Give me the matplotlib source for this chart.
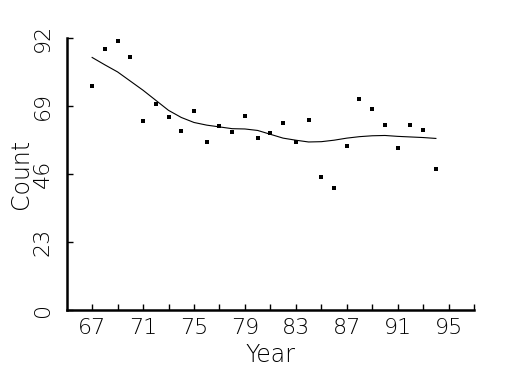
import numpy as np
import matplotlib
matplotlib.use('Agg')
import matplotlib.pyplot as plt

# scatter data (year, count)
years = [67, 68, 69, 70, 71, 72, 73, 74, 75, 76, 77, 78, 79, 80,
         81, 82, 83, 84, 85, 86, 87, 88, 89, 90, 91, 92, 93, 94]
counts = [76.0, 88.3, 91.2, 85.6, 63.9, 69.9, 65.5, 60.5, 67.3, 57.0,
          62.2, 60.4, 65.8, 58.4, 59.8, 63.3, 57.0, 64.3, 45.2, 41.2,
          55.4, 71.6, 68.0, 62.8, 54.9, 62.8, 61.1, 47.6]

# smoothed curve
smooth = [85.5, 83.0, 80.6, 77.5, 74.4, 71.0, 67.6, 65.2, 63.5, 62.6,
          62.0, 61.4, 61.3, 60.8, 59.5, 58.2, 57.5, 56.9, 57.0, 57.5,
          58.2, 58.7, 59.0, 59.1, 58.8, 58.6, 58.4, 58.1]

xticks = np.arange(67, 98, 2)
xlabels = [str(t) if (t - 67) % 4 == 0 else '' for t in xticks]
yticks = [0, 23, 46, 69, 92]

plt.rcParams['font.family'] = ['DejaVu Sans']
plt.rcParams['font.weight'] = 'light'

fig = plt.figure(figsize=(5.25, 3.75), dpi=100)
ax = fig.add_axes([0.127, 0.173, 0.776, 0.725])

ax.plot(years, smooth, color='black', linewidth=0.8)
ax.scatter(years, counts, s=5, marker='s', color='black', linewidths=0, zorder=3)

ax.set_xlim(65, 97)
ax.set_ylim(0, 92)
ax.set_xticks(xticks)
ax.set_xticklabels(xlabels)
ax.set_yticks(yticks)
ax.set_yticklabels([str(t) for t in yticks], rotation=90, va='center')

for side in ['top', 'right']:
    ax.spines[side].set_visible(False)
for side in ['left', 'bottom']:
    ax.spines[side].set_linewidth(1.8)

ax.tick_params(direction='in', length=4, width=1, labelsize=16)
ax.tick_params(axis='x', pad=6)
ax.tick_params(axis='y', pad=10)
ax.set_xlabel('Year', fontsize=17, labelpad=3, fontweight='light')
ax.set_ylabel('Count', fontsize=17, labelpad=0, fontweight='light')

fig.savefig('out.png', dpi=100)
